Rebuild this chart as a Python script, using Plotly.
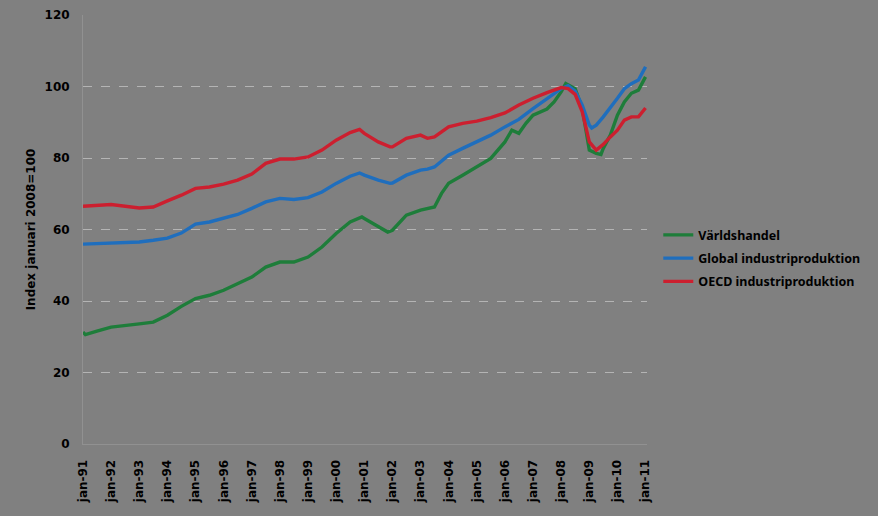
import plotly.graph_objects as go

# ---- data (index, jan 2008 = 100) ----
trade_dates = ["1991-01", "1991-02", "1991-07", "1992-01", "1993-01", "1993-07", "1994-01", "1994-07",
               "1995-01", "1995-07", "1996-01", "1996-07", "1997-01", "1997-07", "1998-01", "1998-07",
               "1999-01", "1999-07", "2000-01", "2000-07", "2000-12", "2001-01", "2001-07", "2001-11",
               "2002-01", "2002-07", "2003-01", "2003-07", "2003-10", "2004-01", "2004-07", "2005-01",
               "2005-07", "2006-01", "2006-04", "2006-07", "2006-10", "2007-01", "2007-04", "2007-07",
               "2007-10", "2008-01", "2008-03", "2008-07", "2008-10", "2008-12", "2009-01", "2009-04",
               "2009-06", "2009-07", "2009-10", "2010-01", "2010-04", "2010-07", "2010-10", "2011-01"]
trade_vals = [31.3, 30.6, 31.6, 32.7, 33.6, 34.1, 36.0, 38.5,
              40.7, 41.6, 43.0, 44.9, 46.7, 49.5, 50.9, 50.9,
              52.3, 55.1, 58.9, 62.1, 63.5, 63.1, 60.9, 59.3,
              59.8, 64.0, 65.4, 66.3, 70.1, 72.9, 75.2, 77.5,
              79.9, 84.5, 87.8, 86.9, 89.7, 92.0, 92.9, 93.7,
              95.7, 98.5, 100.8, 99.4, 93.9, 85.5, 82.2, 81.3,
              81.0, 82.7, 86.4, 92.0, 95.7, 98.1, 99.0, 102.7]

global_dates = ["1991-01", "1992-01", "1993-01", "1993-07", "1994-01", "1994-07", "1995-01", "1995-07",
                "1996-01", "1996-07", "1997-01", "1997-07", "1998-01", "1998-07", "1999-01", "1999-07",
                "2000-01", "2000-07", "2000-11", "2001-01", "2001-07", "2001-12", "2002-01", "2002-07",
                "2003-01", "2003-04", "2003-07", "2004-01", "2004-07", "2005-01", "2005-07", "2006-01",
                "2006-07", "2007-01", "2007-07", "2008-01", "2008-04", "2008-07", "2008-10", "2009-01",
                "2009-02", "2009-04", "2009-07", "2009-10", "2010-01", "2010-04", "2010-07", "2010-10",
                "2010-12", "2011-01"]
global_vals = [55.9, 56.3, 56.5, 57.0, 57.6, 59.0, 61.5, 62.1,
               63.1, 64.2, 65.9, 67.7, 68.7, 68.4, 68.9, 70.5,
               72.9, 74.9, 75.8, 75.2, 73.8, 72.9, 73.0, 75.2,
               76.6, 76.9, 77.5, 80.8, 82.7, 84.5, 86.4, 88.7,
               90.8, 93.8, 96.7, 99.4, 100.2, 98.7, 94.8, 89.2,
               88.4, 89.2, 91.5, 94.0, 96.7, 99.4, 100.8, 101.8,
               104.6, 105.5]

oecd_dates = ["1991-01", "1992-01", "1993-01", "1993-07", "1994-01", "1994-07", "1995-01", "1995-07",
              "1996-01", "1996-07", "1997-01", "1997-07", "1998-01", "1998-07", "1999-01", "1999-07",
              "2000-01", "2000-07", "2000-11", "2001-01", "2001-07", "2001-12", "2002-01", "2002-07",
              "2003-01", "2003-04", "2003-07", "2004-01", "2004-07", "2005-01", "2005-07", "2006-01",
              "2006-07", "2007-01", "2007-07", "2008-01", "2008-04", "2008-07", "2008-10", "2009-01",
              "2009-04", "2009-07", "2009-10", "2010-01", "2010-04", "2010-07", "2010-10", "2011-01"]
oecd_vals = [66.5, 67.0, 66.0, 66.3, 68.0, 69.6, 71.5, 71.9,
             72.7, 73.8, 75.5, 78.5, 79.7, 79.7, 80.3, 82.2,
             85.0, 87.1, 88.0, 86.9, 84.5, 83.1, 83.1, 85.5,
             86.4, 85.5, 85.9, 88.7, 89.7, 90.3, 91.3, 92.6,
             94.8, 96.7, 98.3, 99.7, 99.4, 97.8, 92.9, 84.5,
             82.2, 83.8, 85.9, 87.8, 90.6, 91.5, 91.5, 94.0]

series_names = ["Världshandel", "Global industriproduktion", "OECD industriproduktion"]
series_colors = ["#1e7d3a", "#1f6ebd", "#cc1f2f"]

tick_dates = [f"{y}-01-01" for y in range(1991, 2012)]
tick_labels = [f"jan-{str(y)[2:]}" for y in range(1991, 2012)]
y_ticks = [0, 20, 40, 60, 80, 100, 120]

BG = "#808080"
FONT = "DejaVu Sans"

fig = go.Figure()
for i, (name, dates, vals, col) in enumerate(zip(series_names,
                                  [trade_dates, global_dates, oecd_dates],
                                  [trade_vals, global_vals, oecd_vals],
                                  series_colors)):
    fig.add_trace(go.Scatter(x=[d + "-01" for d in dates], y=vals, mode="lines", name=name,
                             legendgroup=f"g{i}",
                             line=dict(color=col, width=3.4)))

fig.update_layout(
    width=878, height=516,
    paper_bgcolor=BG, plot_bgcolor=BG,
    margin=dict(l=83, r=231, t=15, b=72, autoexpand=False),
    font=dict(family=FONT, color="#000000", size=12),
    showlegend=True,
    legend=dict(x=1.02, xanchor="left", y=0.433, yanchor="middle",
                bgcolor="rgba(0,0,0,0)", tracegroupgap=4,
                font=dict(family="Noto Sans", size=12.5, weight="bold", color="#000"),
                itemwidth=30),
    xaxis=dict(type="date", range=["1991-01-01", "2011-01-20"], automargin=False,
               tickmode="array", tickvals=tick_dates, ticktext=tick_labels,
               tickangle=-90, ticks="outside", ticklen=10, tickcolor=BG,
               tickfont=dict(family=FONT, size=12, weight="bold", color="#000"),
               showgrid=False, zeroline=False,
               showline=True, linecolor="#919191", linewidth=1),
    yaxis=dict(range=[0, 120], tickmode="array", tickvals=y_ticks, automargin=False,
               ticks="outside", ticklen=10, tickcolor=BG,
               tickfont=dict(family=FONT, size=12, weight="bold", color="#000"),
               showgrid=True, gridcolor="#b4b4b4", griddash="dash", gridwidth=1,
               zeroline=False, showline=True, linecolor="#919191", linewidth=1,
               title=dict(text="Index januari 2008=100", standoff=6,
                          font=dict(family=FONT, size=12, weight="bold", color="#000"))),
)

page_js = ("document.body.style.margin='0';"
           "document.body.style.background='#808080';"
           "document.body.style.overflow='hidden';")

fig.write_html("out.html", post_script=page_js, config={"displayModeBar": False})
